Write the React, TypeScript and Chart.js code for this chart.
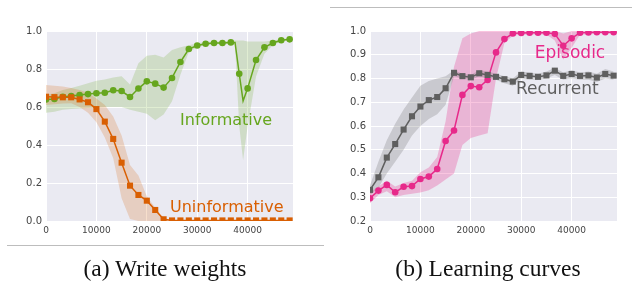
import React, { useEffect, useRef } from 'react';
import { Chart, registerables } from 'chart.js';

Chart.register(...registerables);

// ---------- shared ----------
const steps = [0, 1667, 3333, 5000, 6667, 8333, 10000, 11667, 13333, 15000, 16667, 18333, 20000, 21667, 23333, 25000, 26667, 28333, 30000, 31667, 33333, 35000, 36667, 38333, 40000, 41667, 43333, 45000, 46667, 48333];
const xTicks = [0, 10000, 20000, 30000, 40000];

// ---------- (a) Write weights ----------
const yTicksA = [0, 0.2, 0.4, 0.6, 0.8, 1.0];
const informative = [0.640, 0.642, 0.654, 0.658, 0.663, 0.668, 0.672, 0.675, 0.688, 0.684, 0.653, 0.697, 0.735, 0.723, 0.702, 0.753, 0.837, 0.905, 0.924, 0.933, 0.937, 0.937, 0.940, 0.775, 0.698, 0.847, 0.914, 0.937, 0.951, 0.956];
const informativeLow = [0.57, 0.575, 0.585, 0.59, 0.592, 0.595, 0.598, 0.60, 0.60, 0.60, 0.585, 0.575, 0.565, 0.53, 0.56, 0.63, 0.77, 0.89, 0.915, 0.925, 0.93, 0.93, 0.932, 0.50, 0.50, 0.76, 0.88, 0.925, 0.945, 0.95];
const informativeHigh = [0.665, 0.672, 0.69, 0.70, 0.712, 0.725, 0.738, 0.745, 0.755, 0.762, 0.718, 0.83, 0.87, 0.875, 0.86, 0.90, 0.915, 0.925, 0.935, 0.942, 0.945, 0.945, 0.95, 0.95, 0.945, 0.945, 0.945, 0.95, 0.958, 0.962];
const informativeExtraSteps = [37500, 39100];
const informativeExtraValues = [0.940, 0.632];
const informativeExtraLow = [0.93, 0.32];
const informativeExtraHigh = [0.95, 0.95];

const uninformative = [0.654, 0.652, 0.651, 0.651, 0.640, 0.625, 0.589, 0.523, 0.432, 0.307, 0.186, 0.137, 0.107, 0.058, 0.009, 0.003, 0.003, 0.003, 0.003, 0.003, 0.003, 0.003, 0.003, 0.003, 0.003, 0.003, 0.003, 0.003, 0.003, 0.003];
const uninformativeLow = [0.61, 0.615, 0.618, 0.62, 0.60, 0.57, 0.52, 0.44, 0.33, 0.12, 0.01, 0, 0, 0, 0, 0, 0, 0, 0, 0, 0, 0, 0, 0, 0, 0, 0, 0, 0, 0];
const uninformativeHigh = [0.716, 0.712, 0.708, 0.70, 0.69, 0.675, 0.645, 0.61, 0.55, 0.45, 0.295, 0.24, 0.13, 0.07, 0.015, 0.005, 0.005, 0.005, 0.005, 0.005, 0.005, 0.005, 0.005, 0.005, 0.005, 0.005, 0.005, 0.005, 0.005, 0.005];

// ---------- (b) Learning curves ----------
const yTicksB = [0.2, 0.3, 0.4, 0.5, 0.6, 0.7, 0.8, 0.9, 1.0];
const recurrent = [0.331, 0.384, 0.467, 0.524, 0.585, 0.641, 0.682, 0.709, 0.722, 0.759, 0.824, 0.810, 0.805, 0.822, 0.815, 0.807, 0.797, 0.787, 0.815, 0.811, 0.807, 0.813, 0.833, 0.811, 0.819, 0.811, 0.813, 0.804, 0.819, 0.812];
const recurrentLow = [0.31, 0.34, 0.40, 0.45, 0.50, 0.56, 0.60, 0.63, 0.65, 0.69, 0.81, 0.80, 0.795, 0.81, 0.80, 0.795, 0.78, 0.77, 0.80, 0.795, 0.795, 0.80, 0.815, 0.795, 0.80, 0.795, 0.795, 0.785, 0.80, 0.795];
const recurrentHigh = [0.35, 0.45, 0.54, 0.61, 0.67, 0.72, 0.77, 0.79, 0.80, 0.81, 0.835, 0.82, 0.815, 0.835, 0.83, 0.82, 0.81, 0.80, 0.83, 0.825, 0.82, 0.83, 0.845, 0.825, 0.835, 0.825, 0.83, 0.82, 0.84, 0.83];
const episodic = [0.296, 0.328, 0.352, 0.321, 0.344, 0.347, 0.377, 0.387, 0.419, 0.537, 0.581, 0.731, 0.768, 0.763, 0.794, 0.910, 0.966, 0.990, 0.992, 0.993, 0.993, 0.993, 0.988, 0.938, 0.969, 0.993, 0.994, 0.995, 0.995, 0.995];
const episodicLow = [0.275, 0.31, 0.325, 0.30, 0.31, 0.315, 0.32, 0.33, 0.35, 0.375, 0.40, 0.52, 0.55, 0.56, 0.57, 0.80, 0.95, 0.98, 0.985, 0.985, 0.985, 0.985, 0.96, 0.88, 0.93, 0.985, 0.985, 0.988, 0.988, 0.988];
const episodicHigh = [0.32, 0.345, 0.37, 0.345, 0.36, 0.37, 0.405, 0.425, 0.47, 0.62, 0.85, 0.97, 0.99, 1.0, 1.0, 1.0, 1.0, 1.0, 1.0, 1.0, 1.0, 1.0, 1.0, 0.99, 1.0, 1.0, 1.0, 1.0, 1.0, 1.0];

const GREEN = '#66A61E';
const ORANGE = '#D95F02';
const PINK = '#E7298A';
const GRAY = '#5f5f5f';

type P = { x: number; y: number; m: number };

function pts(xs: number[], ys: number[], exX: number[] = [], exY: number[] = []): P[] {
  const out: P[] = xs.map((x, i) => ({ x, y: ys[i], m: 1 }));
  exX.forEach((x, i) => out.push({ x, y: exY[i], m: 0 }));
  return out.sort((a, b) => a.x - b.x);
}

function lineDs(data: P[], color: string, style: string, radius: number) {
  return {
    data,
    borderColor: color,
    borderWidth: 1.5,
    tension: 0,
    fill: false,
    pointStyle: style,
    pointRadius: (c: any) => (c.raw && c.raw.m ? radius : 0),
    pointBackgroundColor: color,
    pointBorderWidth: 0,
    order: 0,
  };
}

function bandDs(hi: P[], lo: P[], rgba: string) {
  return [
    { data: hi, borderColor: 'transparent', borderWidth: 0, pointRadius: 0, fill: '+1', backgroundColor: rgba, tension: 0 },
    { data: lo, borderColor: 'transparent', borderWidth: 0, pointRadius: 0, fill: false, tension: 0 },
  ];
}

const bgPlugin = {
  id: 'bgArea',
  beforeDraw(chart: any) {
    const { ctx, chartArea: a } = chart;
    ctx.save();
    ctx.fillStyle = '#EAEAF2';
    ctx.fillRect(a.left, a.top, a.right - a.left, a.bottom - a.top);
    ctx.restore();
  },
};

type Lbl = { text: string; x: number; y: number; color: string; size: number };

function labelPlugin(labels: Lbl[]) {
  return {
    id: 'seriesLabels',
    afterDatasetsDraw(chart: any) {
      const { ctx } = chart;
      const xs = chart.scales.x;
      const ys = chart.scales.y;
      ctx.save();
      labels.forEach((l) => {
        ctx.font = `${l.size}px "DejaVu Sans"`;
        ctx.fillStyle = l.color;
        ctx.textBaseline = 'alphabetic';
        ctx.textAlign = 'left';
        ctx.fillText(l.text, xs.getPixelForValue(l.x), ys.getPixelForValue(l.y));
      });
      ctx.restore();
    },
  };
}

function makeConfig(datasets: any[], yMin: number, yMax: number, yTicks: number[], yWidth: number, padRight: number, labels: Lbl[]) {
  return {
    type: 'line',
    data: { datasets },
    options: {
      animation: false,
      responsive: false,
      events: [],
      layout: { padding: { left: 0, top: 31, right: padRight, bottom: 9 } },
      plugins: { legend: { display: false }, tooltip: { enabled: false } },
      scales: {
        x: {
          type: 'linear',
          min: 0,
          max: 49000,
          afterBuildTicks: (s: any) => { s.ticks = xTicks.map((v) => ({ value: v })); },
          afterFit: (s: any) => { s.height = 20; },
          grid: { color: '#ffffff', lineWidth: 1, drawTicks: false },
          border: { display: false },
          ticks: {
            autoSkip: false,
            maxRotation: 0,
            padding: 4,
            color: '#444444',
            font: { family: '"DejaVu Sans"', size: 9 },
            callback: (v: any) => String(v),
          },
        },
        y: {
          type: 'linear',
          min: yMin,
          max: yMax,
          afterBuildTicks: (s: any) => { s.ticks = yTicks.map((v) => ({ value: v })); },
          afterFit: (s: any) => { s.width = yWidth; },
          grid: { color: '#ffffff', lineWidth: 1, drawTicks: false },
          border: { display: false },
          ticks: {
            padding: 4,
            color: '#444444',
            font: { family: '"DejaVu Sans"', size: 10 },
            callback: (v: any) => Number(v).toFixed(1),
          },
        },
      },
    },
    plugins: [bgPlugin, labelPlugin(labels)],
  };
}

function configA() {
  const datasets = [
    lineDs(pts(steps, uninformative), ORANGE, 'rect', 4.3),
    lineDs(pts(steps, informative, informativeExtraSteps, informativeExtraValues), GREEN, 'circle', 3.3),
    ...bandDs(pts(steps, uninformativeHigh), pts(steps, uninformativeLow), 'rgba(217,95,2,0.2)'),
    ...bandDs(
      pts(steps, informativeHigh, informativeExtraSteps, informativeExtraHigh),
      pts(steps, informativeLow, informativeExtraSteps, informativeExtraLow),
      'rgba(102,166,30,0.2)'
    ),
  ];
  return makeConfig(datasets, 0, 1, yTicksA, 46, 27, [
    { text: 'Informative', x: 26600, y: 0.505, color: GREEN, size: 16 },
    { text: 'Uninformative', x: 24600, y: 0.047, color: ORANGE, size: 16 },
  ]);
}

function configB() {
  const datasets = [
    lineDs(pts(steps, recurrent), GRAY, 'rect', 4.3),
    lineDs(pts(steps, episodic), PINK, 'circle', 3.3),
    ...bandDs(pts(steps, recurrentHigh), pts(steps, recurrentLow), 'rgba(102,102,102,0.25)'),
    ...bandDs(pts(steps, episodicHigh), pts(steps, episodicLow), 'rgba(231,41,138,0.27)'),
  ];
  return makeConfig(datasets, 0.2, 1.0, yTicksB, 50, 15, [
    { text: 'Episodic', x: 32700, y: 0.886, color: PINK, size: 17 },
    { text: 'Recurrent', x: 28950, y: 0.735, color: GRAY, size: 17 },
  ]);
}

function Panel({ left, width, build }: { left: number; width: number; build: () => any }) {
  const ref = useRef<HTMLCanvasElement | null>(null);
  useEffect(() => {
    const chart = new Chart(ref.current as HTMLCanvasElement, build());
    return () => chart.destroy();
  }, []);
  return (
    <div style={{ position: 'absolute', left, top: 0, width, height: 250 }}>
      <canvas ref={ref} width={width} height={250} style={{ width, height: 250, display: 'block' }} />
    </div>
  );
}

const captionStyle: React.CSSProperties = {
  position: 'absolute',
  top: 257,
  width: 300,
  textAlign: 'center',
  fontFamily: '"Liberation Serif", "Times New Roman", serif',
  fontSize: 23.5,
  lineHeight: '23.5px',
  color: '#111',
  whiteSpace: 'nowrap',
};

export default function App() {
  return (
    <div style={{ position: 'fixed', left: 0, top: 0, width: 632, height: 283, background: '#fff', overflow: 'hidden' }}>
      <Panel left={0} width={320} build={configA} />
      <Panel left={320} width={312} build={configB} />
      <div style={{ position: 'absolute', left: 7, top: 245, width: 317, height: 1, background: '#bdbdbd' }} />
      <div style={{ position: 'absolute', left: 330, top: 7, width: 302, height: 1, background: '#bdbdbd' }} />
      <div style={{ ...captionStyle, left: 165 - 150 }}>(a) Write weights</div>
      <div style={{ ...captionStyle, left: 488 - 150 }}>(b) Learning curves</div>
    </div>
  );
}
